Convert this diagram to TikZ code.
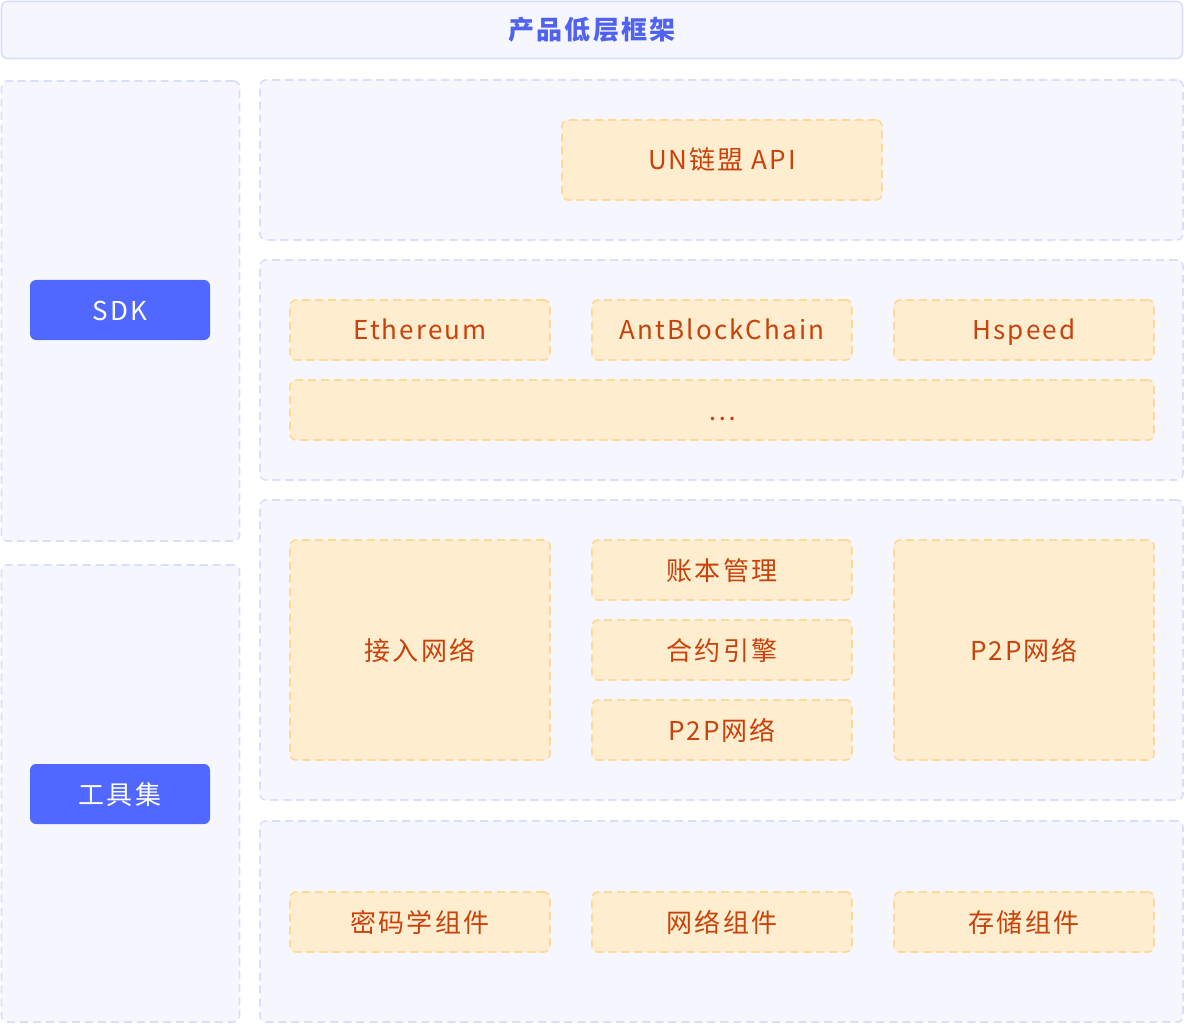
\documentclass[tikz,border=0pt]{standalone}
\usepackage{fontspec}
\setmainfont{Noto Sans CJK SC}[LetterSpace=8]
\definecolor{panelfill}{HTML}{F6F7FE}
\definecolor{panelline}{HTML}{D9DEFB}
\definecolor{cardfill}{HTML}{FFEDCF}
\definecolor{cardline}{HTML}{FFD899}
\definecolor{cardtext}{HTML}{C8420A}
\definecolor{btnfill}{HTML}{5068FF}
\definecolor{titletext}{HTML}{4F63F0}
\tikzset{
  panel/.style={draw=panelline, fill=panelfill, line width=1.6pt, rounded corners=6pt,
    dash pattern=on 8pt off 5pt, inner sep=0pt},
  card/.style={draw=cardline, fill=cardfill, line width=1.6pt, rounded corners=6pt,
    dash pattern=on 8pt off 5pt, text=cardtext, font=\fontsize{26}{30}\selectfont,
    inner sep=0pt, text height=20pt, text depth=0pt},
  button/.style={fill=btnfill, rounded corners=6pt, text=white,
    font=\fontsize{26}{30}\selectfont, inner sep=0pt, text height=20pt, text depth=0pt,
    minimum width=180, minimum height=60},
}
\begin{document}
\begin{tikzpicture}[x=1pt, y=-1pt]
		%%%%% START %%%%%
		\useasboundingbox[fill=white] (0, 0) rectangle (1186, 1024);
		
		\node[draw=panelline, fill=panelfill, line width=1.6pt, rounded corners=6pt,
		  minimum width=1181, minimum height=57, inner sep=0pt, text=titletext,
		  text height=20pt, text depth=0pt,
		  font=\fontsize{26}{30}\selectfont\bfseries] (title) at (592, 30) {产品低层框架};
		
		% left column
		\node[panel, minimum width=238, minimum height=460] (sdkpanel) at (120.5, 311) {};
		\node[panel, minimum width=238, minimum height=457] (toolpanel) at (120.5, 793.5) {};
		\node[button] (sdk) at (120, 310) {SDK};
		\node[button] (tools) at (120, 794) {工具集};
		
		% right column
		\node[panel, minimum width=923, minimum height=160] (apipanel) at (721.5, 160) {};
		\node[panel, minimum width=923, minimum height=220] (chainpanel) at (721.5, 370) {};
		\node[panel, minimum width=923, minimum height=300] (corepanel) at (721.5, 650) {};
		\node[panel, minimum width=923, minimum height=201] (basepanel) at (721.5, 921.5) {};
		
		\node[card, minimum width=320, minimum height=80] (api) at (722, 160) {UN链盟 API};
		
		\node[card, minimum width=260, minimum height=60] (eth) at (420, 330) {Ethereum};
		\node[card, minimum width=260, minimum height=60] (ant) at (722, 330) {AntBlockChain};
		\node[card, minimum width=260, minimum height=60] (hsp) at (1024, 330) {Hspeed};
		\node[card, minimum width=864, minimum height=60] (more) at (722, 410) {\dots};
		
		\node[card, minimum width=260, minimum height=220] (access) at (420, 650) {接入网络};
		\node[card, minimum width=260, minimum height=60] (ledger) at (722, 570) {账本管理};
		\node[card, minimum width=260, minimum height=60] (engine) at (722, 650) {合约引擎};
		\node[card, minimum width=260, minimum height=60] (p2pa) at (722, 730) {P2P网络};
		\node[card, minimum width=260, minimum height=220] (p2pb) at (1024, 650) {P2P网络};
		
		\node[card, minimum width=260, minimum height=60] (crypto) at (420, 922) {密码学组件};
		\node[card, minimum width=260, minimum height=60] (net) at (722, 922) {网络组件};
		\node[card, minimum width=260, minimum height=60] (store) at (1024, 922) {存储组件};
		%%%%% END %%%%%
\end{tikzpicture}
\end{document}
